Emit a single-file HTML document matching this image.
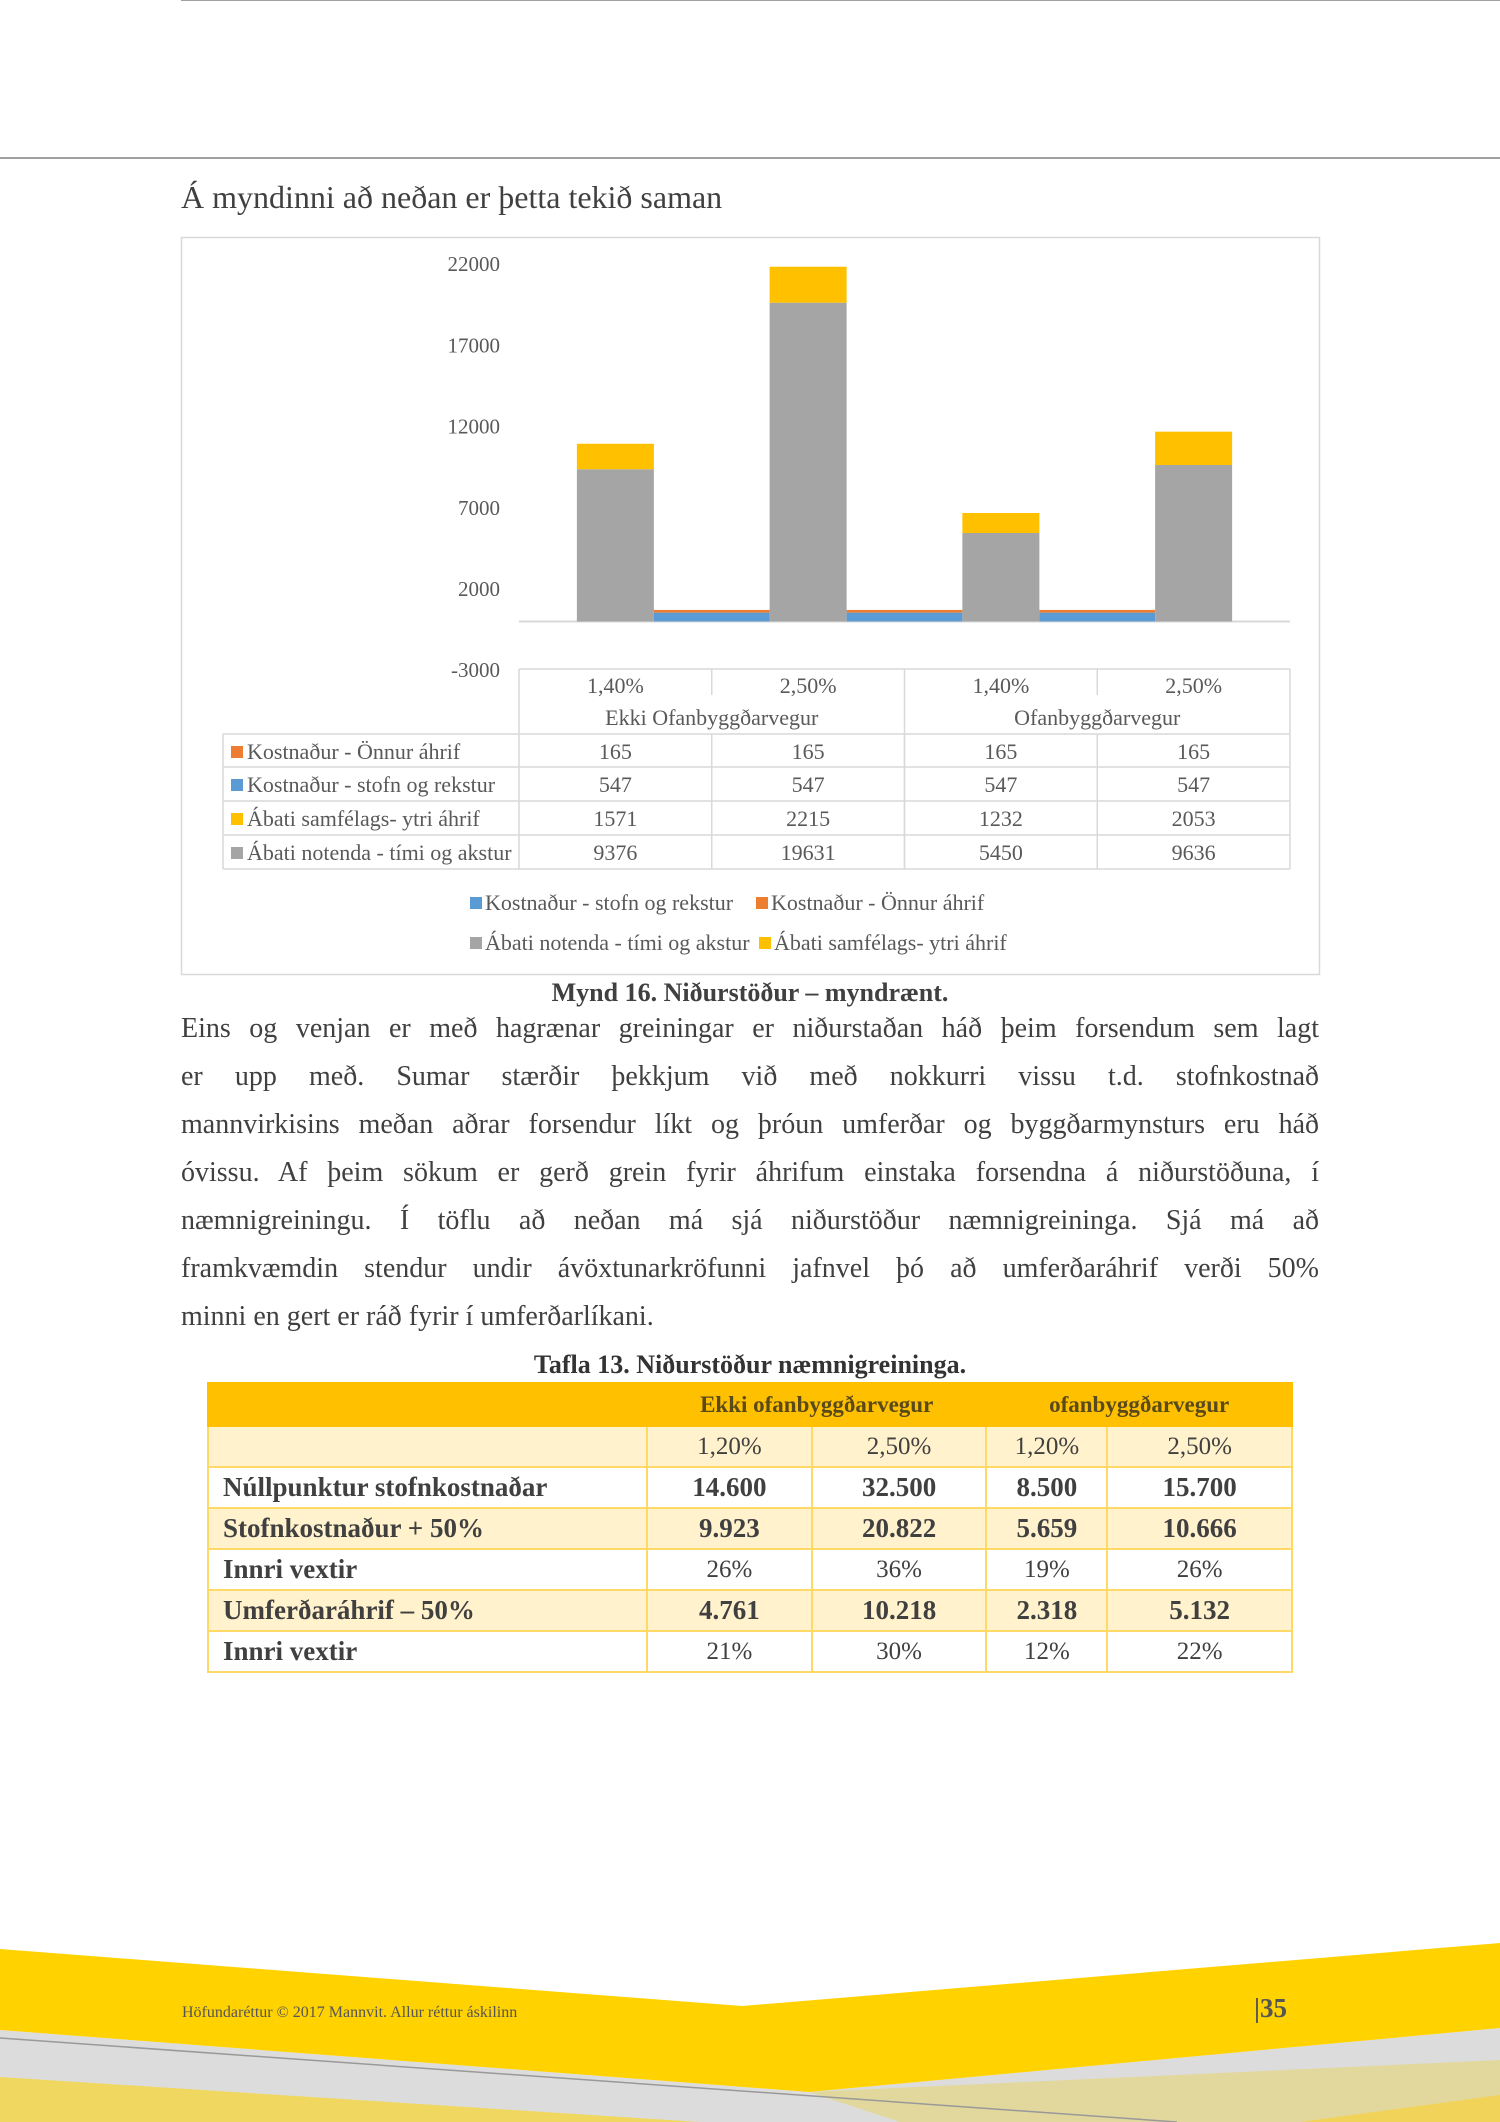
<!DOCTYPE html>
<html><head><meta charset="utf-8">
<style>
html,body{margin:0;padding:0;background:#fff}
body{width:1500px;height:2122px;position:relative;overflow:hidden;font-family:"Liberation Serif",serif;color:#404040}
.abs{position:absolute}
.para{position:absolute;left:181px;width:1138px;font-size:28px;line-height:48px;top:1005px}
.para div{text-align:justify;text-align-last:justify;white-space:nowrap}
.para div.last{text-align-last:left}
table.t13{position:absolute;left:207px;top:1382px;width:1086px;border-collapse:collapse;font-size:25px;color:#404040}
table.t13 td{border:2px solid #FFD966;padding:0 14px;height:39px}
table.t13 td.c{text-align:center}
table.t13 td.lab{font-size:27px;font-weight:bold}
table.t13 td.b{font-size:27px;font-weight:bold}
.hd td{background:#FFC000;border-color:#FFC000 !important;font-weight:bold;color:#5a4a1a;height:41px !important;font-size:23px}
.lt td{background:#FFF2CC}
</style></head>
<body>
<div class="abs" style="left:181px;top:0;width:1319px;height:1px;background:#a0a0a0"></div>
<div class="abs" style="left:0;top:157px;width:1500px;height:2px;background:#a0a0a0"></div>
<div class="abs" style="left:181px;top:179px;font-size:32px;">Á myndinni að neðan er þetta tekið saman</div>

<svg class="abs" style="left:0;top:0" width="1500" height="1000" viewBox="0 0 1500 1000">
<rect x="181.5" y="237.5" width="1138" height="737" fill="none" stroke="#d9d9d9" stroke-width="1.5"/>
<g id="g"></g>
</svg>

<div class="abs" style="left:0;width:1500px;top:978px;text-align:center;font-size:26px;font-weight:bold">Mynd 16. Niðurstöður – myndrænt.</div>

<div class="para">
<div>Eins og venjan er með hagrænar greiningar er niðurstaðan háð þeim forsendum sem lagt</div>
<div>er upp með. Sumar stærðir þekkjum við með nokkurri vissu t.d. stofnkostnað</div>
<div>mannvirkisins meðan aðrar forsendur líkt og þróun umferðar og byggðarmynsturs eru háð</div>
<div>óvissu. Af þeim sökum er gerð grein fyrir áhrifum einstaka forsendna á niðurstöðuna, í</div>
<div>næmnigreiningu. Í töflu að neðan má sjá niðurstöður næmnigreininga. Sjá má að</div>
<div>framkvæmdin stendur undir ávöxtunarkröfunni jafnvel þó að umferðaráhrif verði 50%</div>
<div class="last">minni en gert er ráð fyrir í umferðarlíkani.</div>
</div>

<div class="abs" style="left:0;width:1500px;top:1350px;text-align:center;font-size:26px;font-weight:bold;color:#333">Tafla 13. Niðurstöður næmnigreininga.</div>
<table class="t13">
<colgroup><col style="width:440px"><col style="width:165px"><col style="width:175px"><col style="width:121px"><col style="width:185px"></colgroup>
<tr class="hd"><td></td><td colspan="2" class="c">Ekki ofanbyggðarvegur</td><td colspan="2" class="c">ofanbyggðarvegur</td></tr>
<tr class="lt"><td></td><td class="c">1,20%</td><td class="c">2,50%</td><td class="c">1,20%</td><td class="c">2,50%</td></tr>
<tr><td class="lab">Núllpunktur stofnkostnaðar</td><td class="c b">14.600</td><td class="c b">32.500</td><td class="c b">8.500</td><td class="c b">15.700</td></tr>
<tr class="lt"><td class="lab">Stofnkostnaður + 50%</td><td class="c b">9.923</td><td class="c b">20.822</td><td class="c b">5.659</td><td class="c b">10.666</td></tr>
<tr><td class="lab">Innri vextir</td><td class="c">26%</td><td class="c">36%</td><td class="c">19%</td><td class="c">26%</td></tr>
<tr class="lt"><td class="lab">Umferðaráhrif – 50%</td><td class="c b">4.761</td><td class="c b">10.218</td><td class="c b">2.318</td><td class="c b">5.132</td></tr>
<tr><td class="lab">Innri vextir</td><td class="c">21%</td><td class="c">30%</td><td class="c">12%</td><td class="c">22%</td></tr>
</table>

<svg class="abs" style="left:0;top:1930px" width="1500" height="192" viewBox="0 1930 1500 192">
<polygon points="0,2030 809,2092 1500,2028 1500,2122 0,2122" fill="#dcdcdc"/>
<polygon points="0,2077 700,2122 0,2122" fill="#f0d860"/>
<polygon points="809,2092 1500,2060 1500,2122 900,2122" fill="#e2d89e"/>
<polygon points="1300,2122 1500,2095 1500,2122" fill="#f2d35a"/>
<polygon points="0,1949 742,2006 1500,1943 1500,2028 809,2092 0,2030" fill="#ffd200"/>
<line x1="0" y1="2038" x2="1177" y2="2122" stroke="#999" stroke-width="1.5"/>
</svg>
<div class="abs" style="left:182px;top:2004px;font-size:16px;color:#555">Höfundaréttur © 2017 Mannvit. Allur réttur áskilinn</div>
<div class="abs" style="left:1254px;top:1993px;font-size:27px;font-weight:bold;color:#555">|35</div>

<script>
const categories = ["1,40%","2,50%","1,40%","2,50%"];
const groups = ["Ekki Ofanbyggðarvegur","Ofanbyggðarvegur"];
const onnur = [165,165,165,165];
const stofn = [547,547,547,547];
const samfelags = [1571,2215,1232,2053];
const notenda = [9376,19631,5450,9636];
const yTicks = [22000,17000,12000,7000,2000,-3000];

const NS="http://www.w3.org/2000/svg";
const g=document.getElementById('g');
function mk(tag,attrs,parent){const e=document.createElementNS(NS,tag);for(const k in attrs)e.setAttribute(k,attrs[k]);(parent||g).appendChild(e);return e;}
const x0=519,x1=1290,cw=(x1-x0)/categories.length;
function y(v){return 621.5-v*81.2/5000;}
function cx(i){return x0+cw*(i+0.5);}
const bw=77;
const font='font-family:"Liberation Serif",serif;font-size:22px;fill:#595959';
const tfont='font-family:"Liberation Serif",serif;font-size:21px;fill:#595959';

yTicks.forEach(t=>{
 const e=mk('text',{x:500,y:y(t)+7,'text-anchor':'end',style:tfont});
 
 
 e.textContent=t;
});
const ax=mk('line',{x1:x0,x2:x1,y1:y(0),y2:y(0),stroke:'#d9d9d9','stroke-width':2});



categories.forEach((c,i)=>{
 const g1=mk('rect',{x:cx(i)-bw/2,y:y(notenda[i]),width:bw,height:y(0)-y(notenda[i]),fill:'#a5a5a5'});
 
 
 const top=notenda[i]+samfelags[i];
 const g2=mk('rect',{x:cx(i)-bw/2,y:y(top),width:bw,height:y(notenda[i])-y(top),fill:'#ffc000'});
 
 
 if(i<categories.length-1){
  const xa=cx(i)+bw/2,xb=cx(i+1)-bw/2;
  const b=mk('rect',{x:xa,y:y(stofn[i]),width:xb-xa,height:y(0)-y(stofn[i]),fill:'#5b9bd5'});
  
  
  const o=mk('rect',{x:xa,y:y(stofn[i]+onnur[i]),width:xb-xa,height:y(stofn[i])-y(stofn[i]+onnur[i]),fill:'#ed7d31'});
  
  
 }
});

const rows=[669,702,734,767,801,835,869];
const bc='#d9d9d9';
function ln(a,b,c,d){const e=mk('line',{x1:a,y1:b,x2:c,y2:d,stroke:bc,'stroke-width':1.5});}
ln(x0,rows[0],x1,rows[0]);
for(let r=2;r<rows.length;r++) ln(223,rows[r],x1,rows[r]);
ln(223,rows[2],223,rows[6]);
ln(x0,rows[0],x0,rows[6]);
ln(x1,rows[0],x1,rows[6]);
for(let i=1;i<categories.length;i++){ln(x0+cw*i,rows[0],x0+cw*i,(i===2?rows[6]:rows[0]+26));ln(x0+cw*i,rows[2],x0+cw*i,rows[6]);}
categories.forEach((c,i)=>{
 const e=mk('text',{x:cx(i),y:693,'text-anchor':'middle',style:font});
 
 
 e.textContent=c;
});
groups.forEach((gname,j)=>{
 const e=mk('text',{x:x0+cw*(2*j+1),y:725,'text-anchor':'middle',style:font});
 
 
 e.textContent=gname;
});
const series=[["Kostnaður - Önnur áhrif",onnur,'#ed7d31'],["Kostnaður - stofn og rekstur",stofn,'#5b9bd5'],["Ábati samfélags- ytri áhrif",samfelags,'#ffc000'],["Ábati notenda - tími og akstur",notenda,'#a5a5a5']];
series.forEach((s,r)=>{
 const yy=rows[r+2]+25;
 const sq=mk('rect',{x:231,y:yy-13,width:12,height:12,fill:s[2]});
 
 
 const t=mk('text',{x:247,y:yy,style:font});
 
 
 t.textContent=s[0];
 s[1].forEach((v,i)=>{
  const e=mk('text',{x:cx(i),y:yy,'text-anchor':'middle',style:font});
  
  
  e.textContent=v;
 });
});
const leg=[[470,910,'#5b9bd5',"Kostnaður - stofn og rekstur"],[756,910,'#ed7d31',"Kostnaður - Önnur áhrif"],[470,950,'#a5a5a5',"Ábati notenda - tími og akstur"],[759,950,'#ffc000',"Ábati samfélags- ytri áhrif"]];
leg.forEach(l=>{
 const sq=mk('rect',{x:l[0],y:l[1]-13,width:12,height:12,fill:l[2]});
 
 
 const t=mk('text',{x:l[0]+15,y:l[1],style:font});
 
 
 t.textContent=l[3];
});
</script>
</body></html>
